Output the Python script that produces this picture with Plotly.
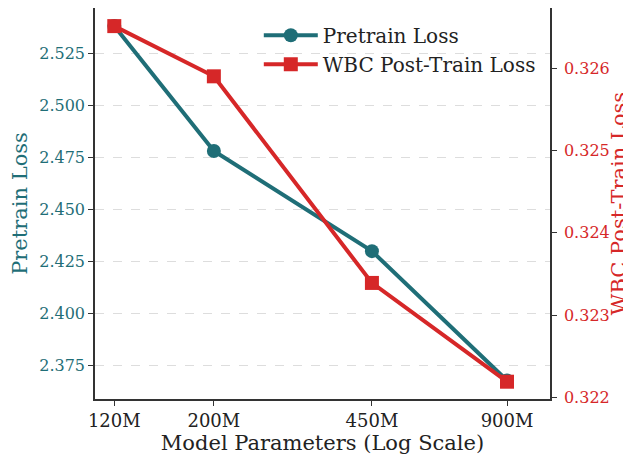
import plotly.graph_objects as go

params = [120, 200, 450, 900]
tick_labels = ["120M", "200M", "450M", "900M"]
pretrain_loss = [2.538, 2.478, 2.430, 2.368]
wbc_loss = [0.32651, 0.32590, 0.32339, 0.32219]

teal = "#1f6e77"
red = "#d62728"
font = "DejaVu Serif"

fig = go.Figure()
fig.add_trace(go.Scatter(x=params, y=pretrain_loss, name="Pretrain Loss", mode="lines+markers",
                         line=dict(color=teal, width=4), marker=dict(symbol="circle", size=14, color=teal),
                         cliponaxis=False))
fig.add_trace(go.Scatter(x=params, y=wbc_loss, name="WBC Post-Train Loss", mode="lines+markers",
                         line=dict(color=red, width=4), marker=dict(symbol="square", size=14, color=red),
                         yaxis="y2", cliponaxis=False))

# page body adds ~8px offset at top/left, so the figure is sized to fit the window
fig.update_layout(
    width=623, height=447,
    margin=dict(l=87, r=81, t=0, b=56, autoexpand=False),
    plot_bgcolor="white", paper_bgcolor="white",
    font=dict(family=font, size=16, color="#222"),
    showlegend=True,
    legend=dict(x=0.36, y=0.98, xanchor="left", yanchor="top", bgcolor="rgba(255,255,255,0)",
                font=dict(size=20, color="#222"), tracegroupgap=0, itemwidth=54),
    xaxis=dict(type="log", range=[2.0362, 3.05], tickvals=params, ticktext=tick_labels,
               showgrid=False, zeroline=False, showline=True, linecolor="#333", linewidth=1.5,
               ticks="outside", ticklen=5, tickcolor="#333", automargin=False,
               title=dict(text="Model Parameters (Log Scale)", font=dict(size=21, color="#222"), standoff=4),
               tickfont=dict(size=18, color="#222")),
    yaxis=dict(range=[2.3591, 2.5466], tickvals=[2.375, 2.4, 2.425, 2.45, 2.475, 2.5, 2.525],
               tickformat=".3f", showgrid=True, gridcolor="#dddddd", griddash="dash", gridwidth=1,
               zeroline=False, showline=True, linecolor="#333", linewidth=1.5,
               ticks="outside", ticklen=5, tickcolor="#333", automargin=False,
               tickfont=dict(size=16, color=teal),
               title=dict(text="Pretrain Loss", font=dict(size=21, color=teal), standoff=6)),
    yaxis2=dict(overlaying="y", side="right", range=[0.32198, 0.32673],
                tickvals=[0.322, 0.323, 0.324, 0.325, 0.326], tickformat=".3f",
                showgrid=False, zeroline=False, showline=True, linecolor="#333", linewidth=1.5,
                ticks="outside", ticklen=5, tickcolor="#333", automargin=False, ticklabelstandoff=4,
                tickfont=dict(size=16, color=red),
                title=dict(text="WBC Post-Train Loss", font=dict(size=21, color=red), standoff=2)),
)

fig.write_html("out.html")
